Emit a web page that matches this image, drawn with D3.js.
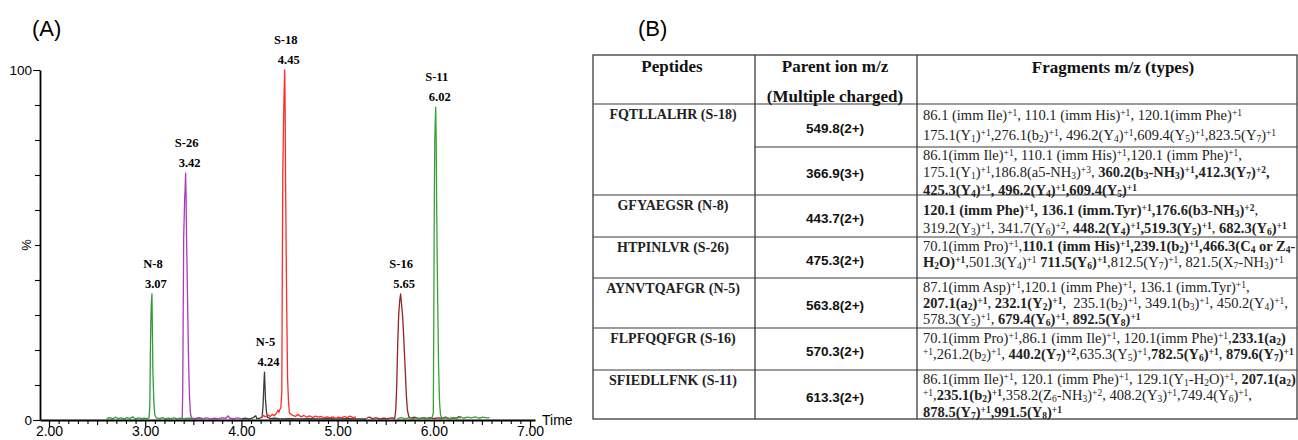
<!DOCTYPE html>
<html><head><meta charset="utf-8">
<script src="https://cdn.jsdelivr.net/npm/d3@7"></script>
<style>
html,body{margin:0;padding:0;background:#fff;}
svg{display:block;}
</style>
</head><body>
<svg id="fig" width="1298" height="440"></svg>
<script>
// ---------------- DATA ----------------
// Chromatogram traces: [retention time (min), relative intensity (%)]
const traceN8 = [[2.60,0.4],[2.63,0.7],[2.66,0.3],[2.69,0.8],[2.72,0.4],[2.75,0.6],[2.78,0.3],[2.81,0.7],[2.84,0.4],[2.87,0.9],[2.90,0.3],[2.93,0.6],[2.96,0.4],[2.99,0.5],[3.02,0.4],[3.04,0.6],[3.048,4],[3.055,22],[3.06,30],[3.065,34],[3.07,36],[3.075,25],[3.08,14],[3.09,5],[3.10,1.5],[3.115,0.6],[3.15,0.4],[3.18,0.7],[3.21,0.3],[3.24,0.5],[3.27,0.4],[3.30,0.6],[3.33,0.3],[3.36,0.5],[3.40,0.4],[3.45,0.5],[3.50,0.3],[3.55,0.5],[3.59,0.4]];
const traceS26 = [[3.385,0.5],[3.39,8],[3.395,30],[3.40,52],[3.41,63],[3.415,66],[3.42,70.5],[3.425,64],[3.43,52],[3.44,35],[3.45,18],[3.46,7],[3.47,2],[3.48,0.6],[3.52,0.4],[3.56,0.7],[3.60,0.4],[3.64,0.6],[3.68,0.3],[3.72,0.5],[3.76,0.4],[3.80,0.6],[3.84,0.5],[3.86,1.2],[3.88,0.5],[3.92,0.4],[3.96,0.6],[4.00,0.4]];
const traceN5 = [[4.00,0.3],[4.04,0.5],[4.08,0.3],[4.12,0.6],[4.15,1.2],[4.16,0.4],[4.19,0.5],[4.215,0.8],[4.225,4],[4.232,9],[4.24,13.7],[4.245,10],[4.25,6],[4.26,2.5],[4.27,0.8],[4.30,0.4],[4.35,0.5],[4.40,0.3],[4.50,0.4],[4.60,0.3],[4.70,0.4],[4.80,0.3],[4.90,0.4],[5.00,0.3],[5.10,0.4],[5.20,0.3],[5.30,0.3]];
const traceS18 = [[4.21,0.8],[4.23,1.3],[4.25,0.9],[4.28,1.4],[4.30,1.0],[4.32,1.6],[4.34,1.2],[4.36,1.8],[4.38,2.8],[4.39,2.2],[4.40,3.0],[4.41,3.5],[4.42,8],[4.425,40],[4.43,70],[4.44,88],[4.445,95],[4.45,100],[4.455,88],[4.46,65],[4.47,35],[4.48,12],[4.49,5],[4.50,2.0],[4.53,1.4],[4.56,1.0],[4.59,1.6],[4.62,0.9],[4.65,1.3],[4.68,0.8],[4.71,1.2],[4.74,0.7],[4.77,1.1],[4.80,0.8],[4.83,1.0],[4.86,0.6],[4.89,0.9],[4.92,0.6],[4.95,0.9],[4.98,0.5],[5.01,0.8],[5.04,0.6],[5.07,1.0],[5.10,0.7],[5.13,1.1],[5.16,0.7],[5.19,0.9]];
const traceS16 = [[5.30,0.5],[5.33,0.8],[5.36,0.4],[5.40,0.6],[5.44,0.3],[5.48,0.5],[5.52,0.4],[5.56,0.6],[5.595,0.5],[5.605,3],[5.615,10],[5.625,22],[5.635,30],[5.645,34],[5.655,36],[5.665,33],[5.675,30],[5.685,25],[5.695,19],[5.705,13],[5.715,7],[5.725,3],[5.74,1],[5.76,0.5],[5.80,0.8],[5.84,0.4],[5.88,0.6],[5.92,0.4],[5.96,0.7],[6.00,0.4],[6.04,0.6],[6.08,0.5],[6.12,0.8],[6.16,0.4],[6.20,0.6],[6.24,0.5],[6.26,1.0],[6.28,0.5]];
const traceS11 = [[5.62,0.4],[5.66,0.7],[5.70,0.4],[5.74,0.6],[5.78,0.3],[5.82,0.6],[5.86,0.4],[5.90,0.7],[5.94,0.4],[5.98,0.5],[5.995,2],[6.00,30],[6.005,60],[6.01,80],[6.015,85],[6.02,89.4],[6.025,80],[6.03,60],[6.04,35],[6.05,15],[6.06,5],[6.07,1.5],[6.085,0.5],[6.12,0.6],[6.16,0.4],[6.20,0.7],[6.24,0.5],[6.28,0.9],[6.31,0.5],[6.35,0.8],[6.39,0.6],[6.43,0.9],[6.47,0.5],[6.51,0.8],[6.55,0.6],[6.58,0.7]];

const traceNames  = ["N-8","S-26","N-5","S-18","S-16","S-11"];
const traceData   = [traceN8, traceS26, traceN5, traceS18, traceS16, traceS11];
const peakTimes   = [3.07, 3.42, 4.24, 4.45, 5.65, 6.02];
const peakHeights = [36, 70.5, 13.7, 100, 36, 89.4];
const peakLabels  = ["3.07","3.42","4.24","4.45","5.65","6.02"];
const traceColors = ["#33993a","#a83cba","#3a3a3a","#ff2b2b","#962222","#3aa03a"];

const xMajorTicks = [2,3,4,5,6,7];
const yTickLabels = {0:"0",100:"100"};

// Table
const tableHeaders = [["Peptides"],["Parent ion m/z","(Multiple charged)"],["Fragments m/z (types)"]];
const peptides = ["FQTLLALHR (S-18)","GFYAEGSR (N-8)","HTPINLVR (S-26)","AYNVTQAFGR (N-5)","FLPFQQFGR (S-16)","SFIEDLLFNK (S-11)"];
const peptideRowSpan = [2,1,1,1,1,1];
const parentIons = ["549.8(2+)","366.9(3+)","443.7(2+)","475.3(2+)","563.8(2+)","570.3(2+)","613.3(2+)"];
// markup: **bold toggle**, _{subscript}, ^{superscript}
const fragments = [
 ["86.1 (imm Ile)^{+1}, 110.1 (imm His)^{+1}, 120.1(imm Phe)^{+1}",
  "175.1(Y_{1})^{+1},276.1(b_{2})^{+1}, 496.2(Y_{4})^{+1},609.4(Y_{5})^{+1},823.5(Y_{7})^{+1}"],
 ["86.1(imm Ile)^{+1}, 110.1 (imm His)^{+1},120.1 (imm Phe)^{+1},",
  "175.1(Y_{1})^{+1},186.8(a5-NH_{3})^{+3}, **360.2(b_{3}-NH_{3})^{+1},412.3(Y_{7})^{+2},**",
  "**425.3(Y_{4})^{+1}, 496.2(Y_{4})^{+1},609.4(Y_{5})^{+1}**"],
 ["**120.1 (imm Phe)^{+1}, 136.1 (imm.Tyr)^{+1},176.6(b3-NH_{3})^{+2}**,",
  "319.2(Y_{3})^{+1}, 341.7(Y_{6})^{+2}, **448.2(Y_{4})^{+1},519.3(Y_{5})^{+1}**, **682.3(Y_{6})^{+1}**"],
 ["70.1(imm Pro)^{+1},**110.1 (imm His)^{+1},239.1(b_{2})^{+1},466.3(C_{4} or Z_{4}-**",
  "**H_{2}O)^{+1}**,501.3(Y_{4})^{+1} **711.5(Y_{6})^{+1}**,812.5(Y_{7})^{+1}, 821.5(X_{7}-NH_{3})^{+1}"],
 ["87.1(imm Asp)^{+1},120.1 (imm Phe)^{+1}, 136.1 (imm.Tyr)^{+1},",
  "**207.1(a_{2})^{+1}**, **232.1(Y_{2})^{+1}**,  235.1(b_{2})^{+1}, 349.1(b_{3})^{+1}, 450.2(Y_{4})^{+1},",
  "578.3(Y_{5})^{+1}, **679.4(Y_{6})^{+1}**, **892.5(Y_{8})^{+1}**"],
 ["70.1(imm Pro)^{+1},86.1 (imm Ile)^{+1}, 120.1(imm Phe)^{+1},**233.1(a_{2})**",
  "^{+1},261.2(b_{2})^{+1}, **440.2(Y_{7})^{+2}**,635.3(Y_{5})^{+1},**782.5(Y_{6})^{+1}**, **879.6(Y_{7})^{+1}**"],
 ["86.1(imm Ile)^{+1}, 120.1 (imm Phe)^{+1}, 129.1(Y_{1}-H_{2}O)^{+1}, **207.1(a_{2})**",
  "^{+1},**235.1(b_{2})^{+1}**,358.2(Z_{6}-NH_{3})^{+2}, 408.2(Y_{3})^{+1},749.4(Y_{6})^{+1},",
  "**878.5(Y_{7})^{+1},991.5(Y_{8})^{+1}**"]
];

// ---------------- DRAW ----------------
const svg = d3.select("#fig");
svg.append("rect").attr("width",1298).attr("height",440).attr("fill","#fff");
const SANS = "'Liberation Sans', Arial, Helvetica, sans-serif";
const SERIF = "'Liberation Serif', 'Times New Roman', Times, serif";

// Panel letters
svg.append("text").attr("x",32).attr("y",36).attr("font-family",SANS).attr("font-size",22).text("(A)");
svg.append("text").attr("x",638).attr("y",36).attr("font-family",SANS).attr("font-size",22).text("(B)");

// ---- Chromatogram ----
const x = d3.scaleLinear().domain([2 - 9/96.2, 7 + 5/96.2]).range([40, 535]);
const y = d3.scaleLinear().domain([0, 100]).range([420, 70]);

const line = d3.line().x(d => x(d[0])).y(d => y(d[1]));
const gTr = svg.append("g");
traceData.forEach((tr, i) => {
  gTr.append("path").datum(tr).attr("d", line)
    .attr("fill","none").attr("stroke", traceColors[i]).attr("stroke-width",1.3)
    .attr("stroke-linejoin","round");
});

// x axis ticks
const minorVals = d3.range(19, 71).map(v => v/10).filter(v => x(v) >= 40 && x(v) <= 535);
svg.append("g").attr("transform","translate(0,420)")
  .call(d3.axisBottom(x).tickValues(minorVals.filter(v => Math.abs(v*2 - Math.round(v*2)) > 1e-6)).tickSize(4).tickFormat(""))
  .call(g => g.select(".domain").remove())
  .selectAll("line").attr("stroke","#000").attr("stroke-width",1.1);
svg.append("g").attr("transform","translate(0,420)")
  .call(d3.axisBottom(x).tickValues(d3.range(2.5,7,1)).tickSize(5).tickFormat(""))
  .call(g => g.select(".domain").remove())
  .selectAll("line").attr("stroke","#000").attr("stroke-width",1.1);
const xAx = svg.append("g").attr("transform","translate(0,420)")
  .call(d3.axisBottom(x).tickValues(xMajorTicks).tickSize(7).tickSizeOuter(0).tickPadding(3).tickFormat(d3.format(".2f")));
xAx.select(".domain").attr("stroke","#000").attr("stroke-width",1.8);
xAx.selectAll("line").attr("stroke","#000").attr("stroke-width",1.2);
xAx.selectAll("text").attr("font-family",SANS).attr("font-size",14).attr("fill","#000")
  .attr("y", 16).attr("dy", 0);

// y axis
const yAx = svg.append("g").attr("transform","translate(40,0)")
  .call(d3.axisLeft(y).tickValues(d3.range(0,101,10)).tickSize(5).tickSizeOuter(0).tickPadding(3)
    .tickFormat(d => yTickLabels[d] || ""));
yAx.select(".domain").attr("stroke","#000").attr("stroke-width",1.8);
yAx.selectAll(".tick line").attr("stroke","#000").attr("stroke-width",1.1)
  .attr("x2", d => (yTickLabels[d] ? -7 : -5));
yAx.selectAll("text").attr("font-family",SANS).attr("font-size",13.5).attr("fill","#000").attr("x", -8);

svg.append("text").attr("transform","translate(31,245) rotate(-90)").attr("text-anchor","middle")
  .attr("font-family",SANS).attr("font-size",13).text("%");
svg.append("text").attr("x",542).attr("y",425).attr("font-family",SANS).attr("font-size",14).text("Time");

// Peak labels
const gLab = svg.append("g").attr("font-family",SERIF).attr("font-weight","bold").attr("font-size",12.5).attr("text-anchor","middle");
peakTimes.forEach((t, i) => {
  const py = y(peakHeights[i]);
  gLab.append("text").attr("x", x(t) + 4).attr("y", py - 6).text(peakLabels[i]);
  gLab.append("text").attr("x", x(t) + 1).attr("y", py - 26).text(traceNames[i]);
});

// ---- Table ----
const colX = [593, 755, 917, 1297];
const rowY = [55, 104, 147, 195, 237, 278, 328, 370, 419]; // header + 7 parent-ion rows
const gT = svg.append("g");
const lc = "#3a3a3a";
gT.append("rect").attr("x",colX[0]).attr("y",rowY[0]).attr("width",colX[3]-colX[0]).attr("height",rowY[8]-rowY[0])
  .attr("fill","none").attr("stroke",lc).attr("stroke-width",1.3);
[1,2].forEach(c => gT.append("line").attr("x1",colX[c]).attr("x2",colX[c]).attr("y1",rowY[0]).attr("y2",rowY[8]).attr("stroke",lc).attr("stroke-width",1.3));
for (let r = 1; r < 8; r++) {
  const startX = (r === 2) ? colX[1] : colX[0];
  gT.append("line").attr("x1",startX).attr("x2",colX[3]).attr("y1",rowY[r]).attr("y2",rowY[r]).attr("stroke",lc).attr("stroke-width",1.1);
}
// headers
const hdrBase = [[72],[72,102],[73]];
tableHeaders.forEach((h, c) => {
  h.forEach((s, k) => {
    gT.append("text").attr("x",(colX[c]+colX[c+1])/2 + (c===2?6:(c===1?-1:-2))).attr("y",hdrBase[c][k]).attr("text-anchor","middle")
      .attr("font-family",SERIF).attr("font-weight","bold").attr("font-size",17).attr("fill","#111").text(s);
  });
});
// peptide names
let rIdx = 1;
peptides.forEach((p, i) => {
  gT.append("text").attr("x",(colX[0]+colX[1])/2 - 1).attr("y",rowY[rIdx]+15).attr("text-anchor","middle")
    .attr("font-family",SERIF).attr("font-weight","bold").attr("font-size",14).attr("fill","#222").text(p);
  rIdx += peptideRowSpan[i];
});
// parent ions
parentIons.forEach((p, i) => {
  gT.append("text").attr("x",(colX[1]+colX[2])/2 - 1).attr("y",(rowY[i+1]+rowY[i+2])/2 + 7).attr("text-anchor","middle")
    .attr("font-family",SANS).attr("font-weight","bold").attr("font-size",13.5).attr("fill","#111").text(p);
});

// rich text parser
function parseRich(s) {
  const segs = []; let bold = false, i = 0, buf = "";
  const flush = () => { if (buf) { segs.push({t:buf, b:bold, off:0}); buf = ""; } };
  while (i < s.length) {
    if (s.startsWith("**", i)) { flush(); bold = !bold; i += 2; }
    else if ((s[i] === "_" || s[i] === "^") && s[i+1] === "{") {
      flush();
      const end = s.indexOf("}", i);
      segs.push({t:s.slice(i+2, end), b:bold, off: s[i] === "_" ? 2 : -4});
      i = end + 1;
    } else { buf += s[i]; i++; }
  }
  flush();
  return segs;
}
const fragBaselines = [
  [120, 140],
  [160, 177, 195],
  [215, 233],
  [251, 267],
  [292, 308, 324],
  [343, 359],
  [384, 400, 417]
];
fragments.forEach((lines, r) => {
  lines.forEach((ln, k) => {
    const t = gT.append("text").attr("x",923).attr("y",fragBaselines[r][k])
      .attr("font-family",SERIF).attr("font-size",14.5).attr("fill","#222").attr("xml:space","preserve");
    let cur = 0;
    parseRich(ln).forEach(sg => {
      const ts = t.append("tspan").attr("font-weight", sg.b ? "bold" : "normal")
        .attr("dy", sg.off - cur).text(sg.t);
      if (sg.off !== 0) ts.attr("font-size", 9.5);
      cur = sg.off;
    });
  });
});
</script>
</body></html>
